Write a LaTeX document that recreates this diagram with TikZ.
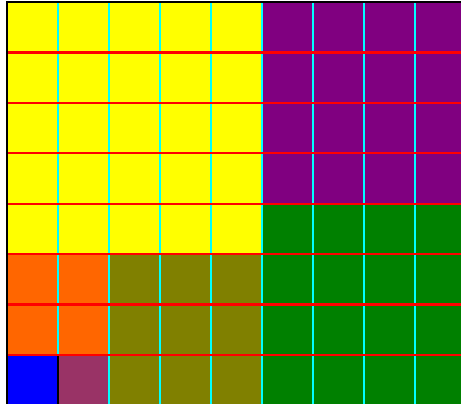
\documentclass[tikz,border=0pt]{standalone}
\definecolor{cellyellow}{HTML}{FFFF00}
\definecolor{cellpurple}{HTML}{800080}
\definecolor{cellgreen}{HTML}{008000}
\definecolor{cellorange}{HTML}{FF6600}
\definecolor{cellolive}{HTML}{808000}
\definecolor{cellblue}{HTML}{0000FF}
\definecolor{cellplum}{HTML}{993366}
\definecolor{gridcyan}{HTML}{00FFFF}
\definecolor{gridred}{HTML}{FF0000}
\tikzset{
  colline/.style={draw=gridcyan, line width=2.2pt},
  rowline/.style={draw=gridred, line width=2.2pt},
  frameline/.style={draw=black, line width=2.2pt}
}
\begin{document}
\begin{tikzpicture}[x=51pt, y=-50.43pt]
        \clip (-0.1373,-0.0397) rectangle (8.902,7.971);

        % Regions (top left to bottom right)
        \fill[cellyellow] (0,0) rectangle (5,5);
        \fill[cellpurple] (5,0) rectangle (9,4);
        \fill[cellgreen] (5,4) rectangle (9,8);
        \fill[cellorange] (0,5) rectangle (2,7);
        \fill[cellolive] (2,5) rectangle (5,8);
        \fill[cellblue] (0,7) rectangle (1,8);
        \fill[cellplum] (1,7) rectangle (2,8);

        % Column lines
        \foreach \c in {1,...,8}
          \draw[colline] (\c,0) -- (\c,8);

        % Row lines
        \foreach \r in {1,...,7}
          \draw[rowline] (0,\r) -- (9,\r);

        % Frame (left and top) and the blue cell's edge
        \draw[frameline] (0,8) -- (0,0) -- (9,0);
        \draw[frameline] (1,7.02) -- (1,8);
      \end{tikzpicture}
\end{document}
